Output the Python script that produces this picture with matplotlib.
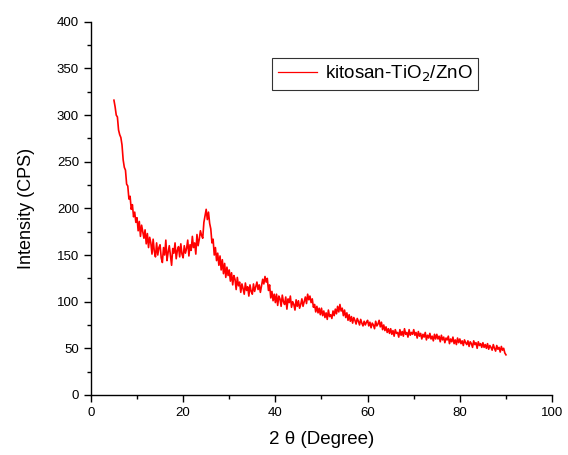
import matplotlib.pyplot as plt
import numpy as np

plt.rcParams['font.family'] = ['Liberation Sans', 'DejaVu Sans']

# углы 2θ: от 5 до 90 с шагом 0.25
two_theta = np.linspace(5, 90, 341)

# интенсивность (по 20 точек = 5 градусов в строке)
intensity = [
    316, 309, 300, 298, 284, 279, 276, 268, 252, 244, 241, 226, 224, 210, 213, 199, 204, 191, 196, 185,
    190, 176, 186, 170, 182, 175, 168, 177, 162, 173, 158, 169, 163, 151, 167, 154, 148, 163, 150, 158,
    161, 147, 142, 158, 150, 166, 144, 153, 160, 149, 139, 157, 152, 163, 146, 155, 159, 148, 162, 151,
    147, 160, 152, 157, 166, 149, 161, 155, 170, 158, 163, 151, 172, 160, 167, 176, 171, 168, 185, 192,
    199, 188, 196, 184, 178, 163, 167, 150, 158, 144, 152, 139, 149, 134, 145, 130, 141, 126, 137, 128,
    134, 122, 131, 118, 128, 124, 113, 126, 117, 121, 110, 119, 114, 108, 120, 112, 116, 106, 118, 111,
    108, 119, 111, 116, 121, 113, 118, 110, 117, 124, 119, 127, 121, 125, 112, 118, 104, 111, 101, 108,
    99, 108, 96, 106, 103, 95, 107, 100, 97, 105, 92, 103, 99, 106, 94, 100, 97, 91, 102, 95,
    101, 93, 97, 103, 95, 100, 105, 98, 108, 102, 106, 99, 103, 94, 97, 89, 95, 88, 93, 86,
    93, 85, 90, 83, 88, 81, 91, 84, 86, 82, 90, 85, 92, 87, 95, 89, 97, 90, 93, 85,
    91, 83, 88, 80, 86, 79, 84, 77, 83, 80, 76, 82, 79, 75, 81, 77, 74, 79, 75, 78,
    80, 74, 78, 72, 77, 75, 71, 79, 74, 76, 80, 73, 78, 70, 75, 69, 73, 67, 71, 66,
    71, 65, 69, 63, 70, 66, 67, 62, 70, 64, 68, 63, 71, 65, 67, 62, 70, 64, 67, 65,
    70, 64, 67, 61, 68, 63, 66, 60, 65, 62, 67, 59, 64, 61, 66, 60, 63, 58, 65, 60,
    65, 60, 63, 57, 64, 59, 62, 56, 61, 59, 63, 55, 60, 57, 62, 55, 59, 54, 61, 56,
    60, 55, 58, 53, 59, 56, 54, 58, 52, 57, 55, 51, 58, 54, 56, 50, 57, 53, 55, 51,
    56, 51, 54, 50, 55, 49, 53, 51, 48, 54, 50, 47, 53, 49, 51, 46, 52, 48, 50, 45,
    43,
]

label = 'kitosan-TiO$_2$/ZnO'

fig = plt.figure(figsize=(5.68, 4.55), dpi=100)
ax = fig.add_axes([0.160, 0.132, 0.812, 0.820])

ax.plot(two_theta, intensity, color='red', linewidth=1.2, label=label)

ax.set_xlim(0, 100)
ax.set_ylim(0, 400)
ax.set_xticks(np.arange(0, 101, 20))
ax.set_xticks(np.arange(0, 101, 10), minor=True)
ax.set_yticks(np.arange(0, 401, 50))
ax.set_yticks(np.arange(0, 401, 25), minor=True)

ax.spines['top'].set_visible(False)
ax.spines['right'].set_visible(False)
for s in ['left', 'bottom']:
    ax.spines[s].set_linewidth(1.0)
ax.tick_params(which='major', direction='out', length=5, width=1, labelsize=9.5, colors='black')
ax.tick_params(which='minor', direction='out', length=3, width=1)

ax.set_xlabel('2 θ (Degree)', fontsize=13.5, labelpad=9)
ax.set_ylabel('Intensity (CPS)', fontsize=13, labelpad=16)

leg = ax.legend(loc='upper left', bbox_to_anchor=(0.393, 0.902), fontsize=13.5,
                frameon=True, fancybox=False, handlelength=2.1, borderpad=0.3,
                borderaxespad=0, handletextpad=0.4)
leg.get_frame().set_edgecolor('black')
leg.get_frame().set_linewidth(0.8)
leg.get_lines()[0].set_linewidth(0.9)

fig.savefig('out.png', dpi=100)
